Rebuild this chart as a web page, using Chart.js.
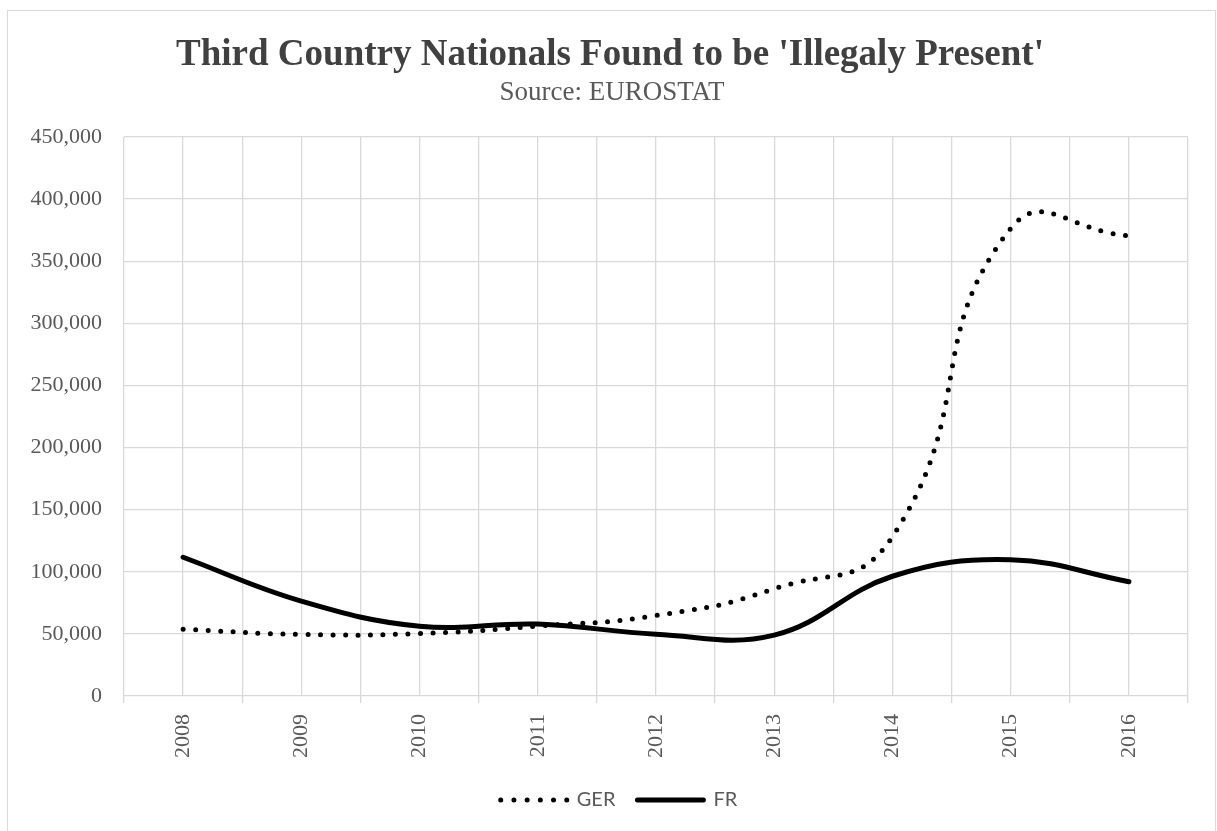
<!DOCTYPE html>
<html>
<head>
<meta charset="utf-8">
<script src="https://cdn.jsdelivr.net/npm/chart.js@4.4.1/dist/chart.umd.min.js"></script>
<style>
  html, body { margin: 0; padding: 0; background: #ffffff; overflow: hidden; }
  #wrap { position: relative; width: 1217px; height: 831px; }
  #frame { position: absolute; left: 7px; top: 10px; width: 1207px; height: 900px;
           border: 1px solid #d9d9d9; pointer-events: none; }
  canvas { position: absolute; left: 0; top: 0; }
</style>
</head>
<body>
<div id="wrap">
  <canvas id="chart" width="1217" height="831"></canvas>
  <div id="frame"></div>
</div>
<script>
// Years on the category axis
const years = [2008, 2009, 2010, 2011, 2012, 2013, 2014, 2015, 2016];
// Persons found to be illegally present, per year
const gerValues = [53700, 49600, 50300, 56300, 64800, 86300, 128300, 376400, 370600];
const frValues  = [111700, 76400, 56200, 57900, 49800, 49000, 96400, 109700, 92000];
// Value axis bounds
const yMin = 0, yMax = 450000, yStep = 50000;

const titleText = "Third Country Nationals Found to be 'Illegaly Present'";
const subtitleText = 'Source: EUROSTAT';

const serif = 'Liberation Serif, Times New Roman, serif';
const textGrey = '#595959';
const gridGrey = '#d9d9d9';

const toPoints = vals => vals.map((v, i) => ({ x: years[i], y: v }));

// Centre the title, subtitle and legend on the outer frame rather than on the canvas area
const centreOnFrame = {
  id: 'centreOnFrame',
  afterLayout(chart) {
    chart.boxes.forEach(b => {
      let dx = 0;
      if (b === chart.legend) dx = 25;
      else if (b.options && b.options.text === titleText) dx = 16;
      else if (b.options && b.options.text === subtitleText) dx = 18;
      if (dx) { b.left += dx; b.right += dx; }
    });
  }
};

new Chart(document.getElementById('chart'), {
  type: 'line',
  data: {
    datasets: [
      {
        label: 'GER',
        data: toPoints(gerValues),
        borderColor: '#000000',
        borderWidth: 5,
        borderDash: [0, 12.5],
        borderCapStyle: 'round',
        pointRadius: 0,
        tension: 0.5,
        fill: false
      },
      {
        label: 'FR',
        data: toPoints(frValues),
        borderColor: '#000000',
        borderWidth: 5,
        borderCapStyle: 'round',
        borderJoinStyle: 'round',
        pointRadius: 0,
        tension: 0.4,
        fill: false
      }
    ]
  },
  plugins: [centreOnFrame],
  options: {
    responsive: false,
    animation: false,
    devicePixelRatio: 1,
    layout: { padding: { left: 0, right: 29, top: 0, bottom: 11 } },
    plugins: {
      title: {
        display: true,
        text: titleText,
        color: '#404040',
        font: { family: serif, size: 37, weight: 'bold', lineHeight: 1.0 },
        padding: { top: 37, bottom: 0 }
      },
      subtitle: {
        display: true,
        text: subtitleText,
        color: textGrey,
        font: { family: serif, size: 27, lineHeight: 1.0 },
        padding: { top: 5, bottom: 31 }
      },
      legend: {
        display: true,
        position: 'bottom',
        labels: {
          usePointStyle: true,
          pointStyleWidth: 66,
          padding: 22,
          color: textGrey,
          font: { family: 'Lato, sans-serif', size: 20 },
          generateLabels: chart => chart.data.datasets.map((ds, i) => ({
            text: ds.label,
            fillStyle: 'rgba(0,0,0,0)',
            strokeStyle: '#000000',
            lineWidth: 5,
            lineDash: ds.borderDash ? [0, 13.2] : [],
            lineCap: 'round',
            pointStyle: 'line',
            hidden: false,
            datasetIndex: i,
            fontColor: textGrey
          }))
        }
      },
      tooltip: { enabled: false }
    },
    scales: {
      x: {
        type: 'linear',
        min: years[0] - 0.5,
        max: years[years.length - 1] + 0.5,
        afterFit: scale => {
          scale.height = 72;
          scale.paddingLeft = 0;
          scale.paddingRight = 0;
        },
        grid: {
          color: gridGrey,
          lineWidth: 1.3,
          drawTicks: true,
          tickLength: 7,
          tickColor: ctx => (ctx.tick && ctx.tick.value % 1 !== 0) ? gridGrey : 'rgba(0,0,0,0)'
        },
        border: { display: false },
        ticks: {
          stepSize: 0.5,
          autoSkip: false,
          minRotation: 90,
          maxRotation: 90,
          padding: 11,
          color: textGrey,
          font: { family: serif, size: 22 },
          callback: v => Number.isInteger(v) ? String(v) : ''
        }
      },
      y: {
        min: yMin,
        max: yMax,
        afterFit: scale => { scale.width = 124; },
        grid: { color: gridGrey, lineWidth: 1.3, drawTicks: false },
        border: { display: false },
        ticks: {
          stepSize: yStep,
          padding: 22,
          color: textGrey,
          font: { family: serif, size: 22 },
          callback: v => v.toLocaleString('en-US')
        }
      }
    }
  }
});
</script>
</body>
</html>
